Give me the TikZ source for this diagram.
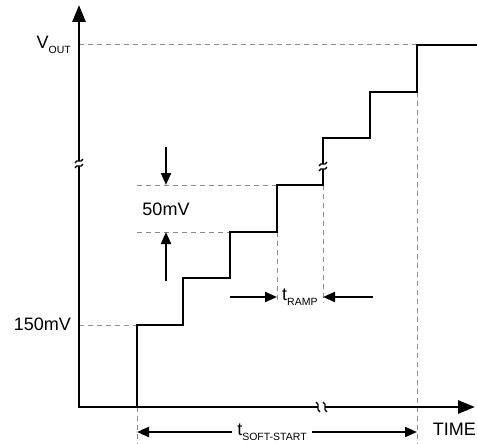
\documentclass[tikz,border=0pt]{standalone}
\usepackage{fontspec}
\setmainfont{Liberation Sans}
\usetikzlibrary{arrows.meta,calc}
\newcommand\subtxt[1]{\raisebox{-0.5ex}{\fontsize{10.5}{11}\selectfont #1}}
\begin{document}
\begin{tikzpicture}[x=1pt,y=-1pt,
  axis/.style={line width=2.9pt, line join=miter},
  stair/.style={line width=2.7pt, line join=miter},
  guide/.style={black!45, line width=1pt, dash pattern=on 5pt off 4pt},
  dimarrow/.style={line width=2.1pt, -{Triangle[length=12pt,width=10pt]}},
  axarrow/.style={-{Triangle[length=17pt,width=13pt]}},
  brk/.style={line width=1.3pt},
  lbl/.style={inner sep=0pt, font=\fontsize{18}{20}\selectfont},
]
\useasboundingbox (0,0) rectangle (477,444);
% axis coordinates
\coordinate (O) at (79,407);
\coordinate (ytop) at (79,5);
\coordinate (ybrkA) at (79,161);
\coordinate (ybrkB) at (79,166);
\coordinate (xbrkA) at (318,407);
\coordinate (xbrkB) at (325,407);
\coordinate (xend) at (475,407);
% staircase coordinates
\coordinate (s0) at (137,407);
\coordinate (s1) at (137,325);
\coordinate (s2) at (183,325);
\coordinate (s3) at (183,278);
\coordinate (s4) at (230,278);
\coordinate (s5) at (230,232);
\coordinate (s6) at (277,232);
\coordinate (s7) at (277,185);
\coordinate (s8) at (323,185);
\coordinate (s9a) at (323,169);
\coordinate (s9b) at (323,164);
\coordinate (s10) at (323,138);
\coordinate (s11) at (370,138);
\coordinate (s12) at (370,92);
\coordinate (s13) at (417,92);
\coordinate (s14) at (417,45);
\coordinate (s15) at (477,45);
% guide coordinates
\coordinate (yv) at (79,45);
\coordinate (y150) at (79,325);
\coordinate (g185) at (137,185);
\coordinate (g232) at (137,232);
\coordinate (r1) at (277,303);
\coordinate (r2) at (323,303);
\coordinate (b1) at (417,444);
\coordinate (b0) at (137,444);

% guides
\draw[guide] (yv) -- (s14);
\draw[guide] (y150) -- (s1);
\draw[guide] (g185) -- (s7);
\draw[guide] (g232) -- (s5);
\draw[guide] (s6) -- (r1);
\draw[guide] (s8) -- (r2);
\draw[guide] (s13) -- (b1);
\draw[guide] (s0) -- (b0);

% axes
\draw[axis, axarrow] (ybrkA) -- (ytop);
\draw[axis] (ybrkB) -- (O) -- (xbrkA);
\draw[axis, axarrow] (xbrkB) -- (xend);
% axis breaks
\draw[brk] ($(ybrkA)+(-4,2)$) .. controls ($(ybrkA)+(-2,-3)$) and ($(ybrkA)+(2,3)$) .. ($(ybrkA)+(4,-2)$);
\draw[brk] ($(ybrkB)+(-4,2)$) .. controls ($(ybrkB)+(-2,-3)$) and ($(ybrkB)+(2,3)$) .. ($(ybrkB)+(4,-2)$);
\draw[brk] ($(xbrkA)+(-2,-5)$) .. controls ($(xbrkA)+(3,-2)$) and ($(xbrkA)+(-3,2)$) .. ($(xbrkA)+(2,5)$);
\draw[brk] ($(xbrkB)+(-2,-5)$) .. controls ($(xbrkB)+(3,-2)$) and ($(xbrkB)+(-3,2)$) .. ($(xbrkB)+(2,5)$);

% staircase
\draw[stair] (s0) -- (s1) -- (s2) -- (s3) -- (s4) -- (s5) -- (s6) -- (s7) -- (s8) -- (s9a);
\draw[stair] (s9b) -- (s10) -- (s11) -- (s12) -- (s13) -- (s14) -- (s15);
\draw[brk] ($(s9a)+(-4,2)$) .. controls ($(s9a)+(-2,-3)$) and ($(s9a)+(2,3)$) .. ($(s9a)+(4,-2)$);
\draw[brk] ($(s9b)+(-4,2)$) .. controls ($(s9b)+(-2,-3)$) and ($(s9b)+(2,3)$) .. ($(s9b)+(4,-2)$);

% dimension arrows
\coordinate (m1) at (166,147);
\coordinate (m1e) at (166,185);
\coordinate (m2) at (166,281);
\coordinate (m2e) at (166,232);
\coordinate (t1) at (230,297);
\coordinate (t1e) at (277,297);
\coordinate (t2) at (373,297);
\coordinate (t2e) at (323,297);
\coordinate (ss1) at (232,432);
\coordinate (ss1e) at (137,432);
\coordinate (ss2) at (312,432);
\coordinate (ss2e) at (417,432);
\draw[dimarrow] (m1) -- (m1e);
\draw[dimarrow] (m2) -- (m2e);
\draw[dimarrow] (t1) -- (t1e);
\draw[dimarrow] (t2) -- (t2e);
\draw[dimarrow] (ss1) -- (ss1e);
\draw[dimarrow] (ss2) -- (ss2e);

% labels
\node[lbl, anchor=east] (vout) at (71,45) {V\subtxt{OUT}};
\node[lbl, anchor=east] (l150) at (71,324.5) {150mV};
\node[lbl] (l50) at (166,209) {50mV};
\node[lbl, anchor=west] (tramp) at (282,297) {t\subtxt{RAMP}};
\node[lbl] (tss) at (272,432) {t\subtxt{SOFT-START}};
\node[lbl, anchor=east] (time) at (476,429) {TIME};
\end{tikzpicture}
\end{document}
